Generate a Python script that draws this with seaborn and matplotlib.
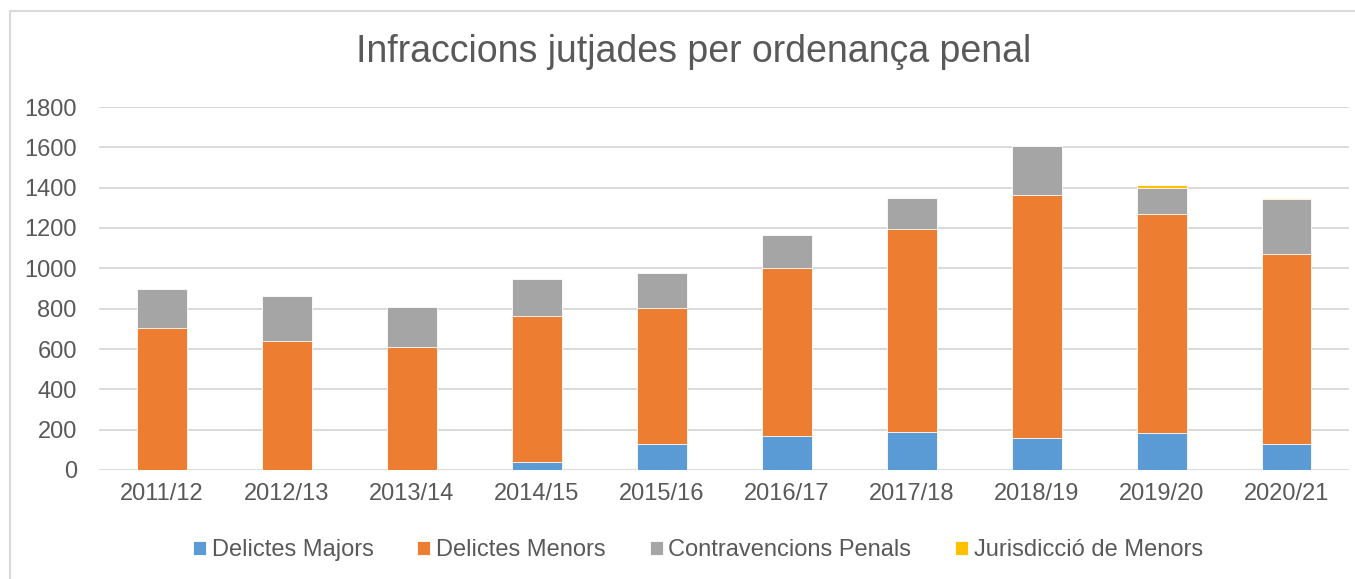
import matplotlib
matplotlib.use("Agg")
import matplotlib.pyplot as plt
from matplotlib.patches import Rectangle
import seaborn as sns
import numpy as np

# dades llegides del gràfic
cursos = ["2011/12", "2012/13", "2013/14", "2014/15", "2015/16",
          "2016/17", "2017/18", "2018/19", "2019/20", "2020/21"]
delictes_majors = [0, 0, 0, 41, 131, 171, 189, 159, 181, 131]
delictes_menors = [706, 641, 611, 723, 672, 831, 1004, 1204, 1088, 939]
contravencions = [192, 220, 196, 185, 173, 162, 155, 242, 127, 273]
jurisdiccio_menors = [0, 0, 0, 0, 0, 0, 0, 0, 17, 7]

series = ["Delictes Majors", "Delictes Menors", "Contravencions Penals", "Jurisdicció de Menors"]
colors = ["#5B9BD5", "#ED7D31", "#A5A5A5", "#FFC000"]
text_color = "#595959"

sns.set_style("white")
plt.rcParams['font.family'] = ['Liberation Sans', 'DejaVu Sans']

fig = plt.figure(figsize=(13.55, 5.79), dpi=100)
ax = fig.add_axes([99 / 1355, 1 - 470 / 579, 1250 / 1355, 363 / 579])

# sumes acumulades, es dibuixen de dalt a baix
vals = np.array([delictes_majors, delictes_menors, contravencions, jurisdiccio_menors])
cum = np.cumsum(vals, axis=0)
for i in range(3, -1, -1):
    sns.barplot(x=cursos, y=cum[i], color=colors[i], width=0.4, ax=ax,
                edgecolor="white", linewidth=0.6, label=series[i], saturation=1)

ax.set_ylim(0, 1800)
ax.set_xlim(-0.5, 9.5)
ax.set_yticks(range(0, 1801, 200))
ax.set_axisbelow(True)
ax.yaxis.grid(True, color="#D9D9D9", linewidth=1.4)
ax.xaxis.grid(False)
for s in ax.spines.values():
    s.set_visible(False)
ax.tick_params(axis="both", length=0, labelsize=17, labelcolor=text_color)
ax.tick_params(axis="y", pad=16)
ax.tick_params(axis="x", pad=9)
ax.set_xlabel("")
ax.set_ylabel("")

fig.text(0.512, 1 - 52 / 579, "Infraccions jutjades per ordenança penal",
         ha="center", va="center", fontsize=27, color=text_color)

h, l = ax.get_legend_handles_labels()
order = [l.index(s) for s in series]
if ax.get_legend() is not None:
    ax.get_legend().remove()
leg = fig.legend([h[k] for k in order], [l[k] for k in order], ncol=4, loc="center",
                 bbox_to_anchor=(698 / 1355, 1 - 550 / 579), frameon=False,
                 fontsize=17, handlelength=0.55, handleheight=0.55,
                 handletextpad=0.25, columnspacing=1.85)
for t in leg.get_texts():
    t.set_color(text_color)

# vora del gràfic
fig.patches.append(Rectangle((10 / 1355, -0.05), 1.1, 1 - 11 / 579 + 0.05,
                             transform=fig.transFigure, fill=False,
                             edgecolor="#D9D9D9", linewidth=1.5))

fig.savefig("out.png", dpi=100)
